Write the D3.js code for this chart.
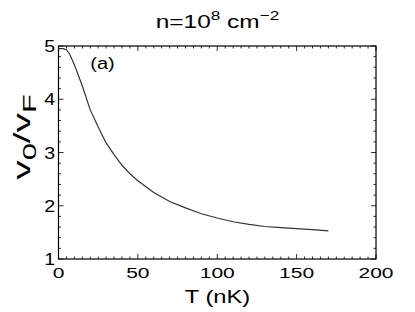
<!DOCTYPE html>
<html>
<head>
<meta charset="utf-8">
<script src="https://cdn.jsdelivr.net/npm/d3@7"></script>
<style>
  body { margin: 0; background: #fff; }
  text { font-family: "Liberation Sans", Arial, sans-serif; fill: #000; }
</style>
</head>
<body>
<svg id="chart" width="415" height="312"></svg>
<script>
// temperature (nK) and v0/vF
var temps = [0, 3, 5, 7, 10, 15, 20, 25, 30, 35, 40, 45, 50, 60, 70, 80, 90, 100, 110, 120, 130, 140, 150, 160, 170];
var ratios = [4.95, 4.95, 4.93, 4.85, 4.65, 4.25, 3.8, 3.48, 3.18, 2.96, 2.76, 2.6, 2.47, 2.25, 2.08, 1.96, 1.85, 1.77, 1.7, 1.65, 1.61, 1.59, 1.57, 1.55, 1.53];
var xTicks = [0, 50, 100, 150, 200];
var yTicks = [1, 2, 3, 4, 5];

var svg = d3.select("#chart");
var plotL = 58.5, plotR = 376, plotT = 46, plotB = 259;

var x = d3.scaleLinear().domain([0, 200]).range([plotL, plotR]);
var y = d3.scaleLinear().domain([1, 5]).range([plotB, plotT]);

// stretched text helper (the original figure is scaled wider than tall)
function label(px, py, anchor, size, stretch) {
  return svg.append("text")
    .attr("transform", "translate(" + px + "," + py + ") scale(" + stretch + ",1)")
    .attr("text-anchor", anchor)
    .style("font-size", size + "px");
}

// minor + major ticks, all four sides, pointing inward
var xMinor = d3.range(0, 201, 5);
var yMinor = d3.range(1, 5.01, 0.2);
var ticks = svg.append("g").attr("stroke", "#333").attr("stroke-width", 1);
xMinor.forEach(function (t) {
  var len = t % 50 === 0 ? 5 : 2.5;
  ticks.append("line").attr("x1", x(t)).attr("x2", x(t)).attr("y1", plotB).attr("y2", plotB - len);
  ticks.append("line").attr("x1", x(t)).attr("x2", x(t)).attr("y1", plotT).attr("y2", plotT + len);
});
yMinor.forEach(function (t) {
  var major = Math.abs(t - Math.round(t)) < 1e-6;
  var len = major ? 5 : 2.5;
  ticks.append("line").attr("y1", y(t)).attr("y2", y(t)).attr("x1", plotL).attr("x2", plotL + len);
  ticks.append("line").attr("y1", y(t)).attr("y2", y(t)).attr("x1", plotR).attr("x2", plotR - len);
});

// box
svg.append("rect")
  .attr("x", plotL).attr("y", plotT)
  .attr("width", plotR - plotL).attr("height", plotB - plotT)
  .attr("fill", "none").attr("stroke", "#000").attr("stroke-width", 1.2);

// tick labels
xTicks.forEach(function (t) {
  label(x(t), 278, "middle", 14, 1.5).text(t);
});
yTicks.forEach(function (t) {
  label(55, y(t) + 6, "end", 17, 1.15).text(t);
});

// curve
var line = d3.line()
  .x(function (d, i) { return x(temps[i]); })
  .y(function (d) { return y(d); });
svg.append("path")
  .datum(ratios)
  .attr("d", line)
  .attr("fill", "none")
  .attr("stroke", "#333")
  .attr("stroke-width", 1.2);

// panel label
label(x(20), y(4.57), "start", 16, 1.25).text("(a)");

// title
var title = label(217.5, 28, "middle", 18.5, 1.32);
title.append("tspan").text("n=10");
title.append("tspan").attr("dy", -8).style("font-size", "13px").text("8");
title.append("tspan").attr("dy", 8).text(" cm");
title.append("tspan").attr("dy", -8).style("font-size", "13px").text("\u22122");

// x axis title
label(217.5, 303, "middle", 19, 1.25).text("T (nK)");

// y axis title
var yt = svg.append("text")
  .attr("transform", "translate(30,137) rotate(-90) scale(1.62,1)")
  .attr("text-anchor", "middle")
  .style("font-size", "24px");
yt.append("tspan").text("v");
yt.append("tspan").attr("dy", 6).style("font-size", "19px").text("0");
yt.append("tspan").attr("dy", -6).text("/v");
yt.append("tspan").attr("dy", 6).style("font-size", "19px").text("F");
</script>
</body>
</html>
